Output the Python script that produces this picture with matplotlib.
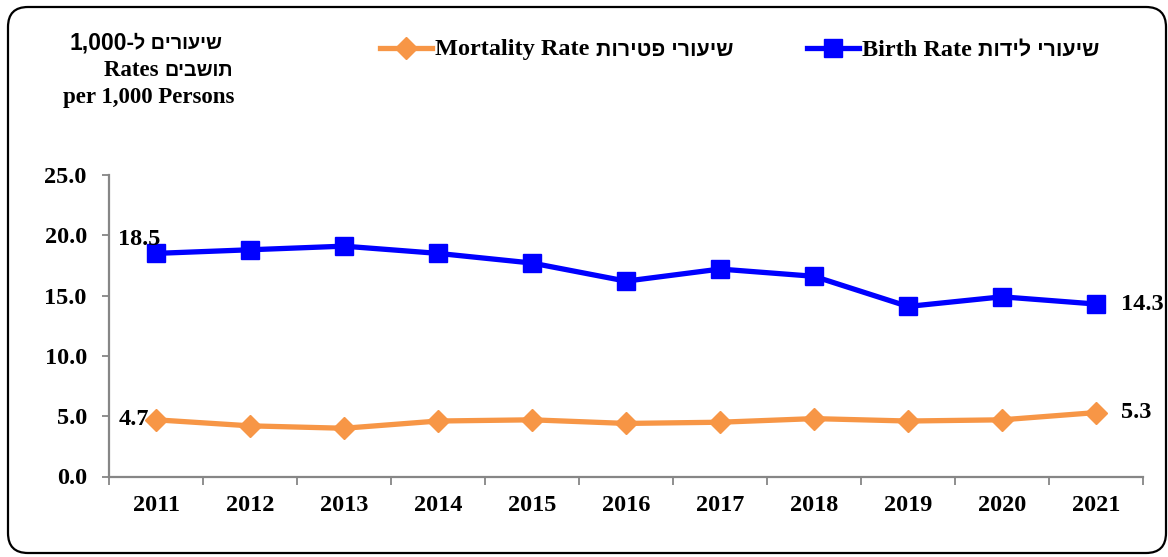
import numpy as np
import matplotlib
matplotlib.use("Agg")
from matplotlib import pyplot as plt
from matplotlib.patches import FancyBboxPatch
from matplotlib.lines import Line2D

# data
years = ["2011", "2012", "2013", "2014", "2015", "2016", "2017", "2018", "2019", "2020", "2021"]
birth_rate = [18.5, 18.8, 19.1, 18.5, 17.7, 16.2, 17.2, 16.6, 14.1, 14.9, 14.3]
mortality_rate = [4.7, 4.2, 4.0, 4.6, 4.7, 4.4, 4.5, 4.8, 4.6, 4.7, 5.3]
y_ticks = [0, 5, 10, 15, 20, 25]

# text pieces: (text, use sans font, size factor). Hebrew is reversed into
# visual order because matplotlib has no bidi support
birth_runs = [("Birth Rate ", False, 1.0), ("שיעורי לידות"[::-1], True, 0.88)]
mortality_runs = [("Mortality Rate ", False, 1.0), ("שיעורי פטירות"[::-1], True, 0.88)]
ylabel_runs = [
    [("1,000-", True, 1.0), ("שיעורים ל"[::-1], True, 0.86)],
    [("Rates ", False, 1.0), ("תושבים"[::-1], True, 0.86)],
    [("per 1,000 Persons", False, 1.0)],
]
ylabel_right = [222, 233, 234]

plt.rcParams['font.family'] = ['Liberation Serif', 'DejaVu Serif']
plt.rcParams['font.weight'] = 'bold'
SANS_FONT = ['Liberation Sans', 'DejaVu Sans']

BLUE = "#0000FF"
ORANGE = "#F79646"
GREY = "#868686"
W, H = 1168, 557

fig = plt.figure(figsize=(W / 100, H / 100), dpi=100)
renderer = fig.canvas.get_renderer()


def draw_runs(x_px, y_px, runs, size, ha="left"):
    # measure each piece, then lay them out left to right
    pieces = []
    for txt, sans, k in runs:
        fam = SANS_FONT if sans else plt.rcParams['font.family']
        t = fig.text(0, 0, txt, fontsize=size * k, fontweight="bold", family=fam,
                     va="center", ha="left")
        w = t.get_window_extent(renderer).width
        pieces.append((t, w))
    total = sum(w for _, w in pieces)
    start = x_px - total if ha == "right" else x_px
    for t, w in pieces:
        t.set_position((start / W, 1 - y_px / H))
        start += w
    return start


# rounded frame around the whole chart
frame = FancyBboxPatch((0.08, 0.04), 11.58, 5.46,
                       boxstyle="round,pad=0,rounding_size=0.2",
                       transform=fig.dpi_scale_trans, fill=False,
                       edgecolor="black", linewidth=1.6)
fig.patches.append(frame)

ax = fig.add_axes([109 / W, 80.5 / H, 1034 / W, 301.5 / H])
x = np.arange(len(years))

ax.plot(x, birth_rate, color=BLUE, linewidth=3.8, marker="s", markersize=13.5,
        markerfacecolor=BLUE, markeredgecolor=BLUE, clip_on=False)
ax.plot(x, mortality_rate, color=ORANGE, linewidth=3.8, marker="D", markersize=11,
        markerfacecolor=ORANGE, markeredgecolor=ORANGE, clip_on=False)

ax.set_xlim(-0.5, len(years) - 0.5)
ax.set_ylim(0, 25)
ax.set_yticks(y_ticks)
ax.set_yticklabels([f"{v:.1f}" for v in y_ticks], fontsize=17.5, fontweight="bold")
ax.set_xticks(x)
ax.set_xticklabels(years, fontsize=17.5, fontweight="bold")
ax.tick_params(axis="x", length=0, pad=13)
ax.set_xticks(np.arange(-0.5, len(years), 1), minor=True)
ax.tick_params(axis="x", which="minor", length=6, color=GREY, width=1.3)
ax.tick_params(axis="y", length=5, color=GREY, width=1.3, pad=11)

for side in ["top", "right"]:
    ax.spines[side].set_visible(False)
for side in ["left", "bottom"]:
    ax.spines[side].set_color(GREY)
    ax.spines[side].set_linewidth(1.6)

# end labels
ax.annotate(f"{birth_rate[0]:.1f}", (x[0], birth_rate[0]), xytext=(3, 10),
            textcoords="offset points", fontsize=17.5, fontweight="bold",
            va="center", ha="right")
ax.annotate(f"{mortality_rate[0]:.1f}", (x[0], mortality_rate[0]), xytext=(-5, 0),
            textcoords="offset points", fontsize=17.5, fontweight="bold",
            va="center", ha="right")
ax.annotate(f"{birth_rate[-1]:.1f}", (x[-1], birth_rate[-1]), xytext=(18, 0),
            textcoords="offset points", fontsize=17.5, fontweight="bold", va="center")
ax.annotate(f"{mortality_rate[-1]:.1f}", (x[-1], mortality_rate[-1]), xytext=(18, 0),
            textcoords="offset points", fontsize=17.5, fontweight="bold", va="center")

# y axis title in the top left corner
for i, runs in enumerate(ylabel_runs):
    draw_runs(ylabel_right[i], 43 + 27 * i, runs, 16.5, ha="right")

# legend, one entry at a time so the Hebrew can follow the English text
legend_specs = [
    (Line2D([], [], color=ORANGE, linewidth=3.8, marker="D", markersize=11),
     mortality_runs, 380),
    (Line2D([], [], color=BLUE, linewidth=3.8, marker="s", markersize=12.5),
     birth_runs, 807),
]
for handle, runs, x0 in legend_specs:
    leg = fig.legend([handle], [" "], frameon=False, loc="center left",
                     bbox_to_anchor=(x0 / W, 1 - 50 / H), borderpad=0,
                     borderaxespad=0, prop={"size": 17, "weight": "bold"},
                     handlelength=2.2, handletextpad=0.0)
    draw_runs(x0 + 55, 50, runs, 17.5)

fig.savefig("out.png", dpi=100)
